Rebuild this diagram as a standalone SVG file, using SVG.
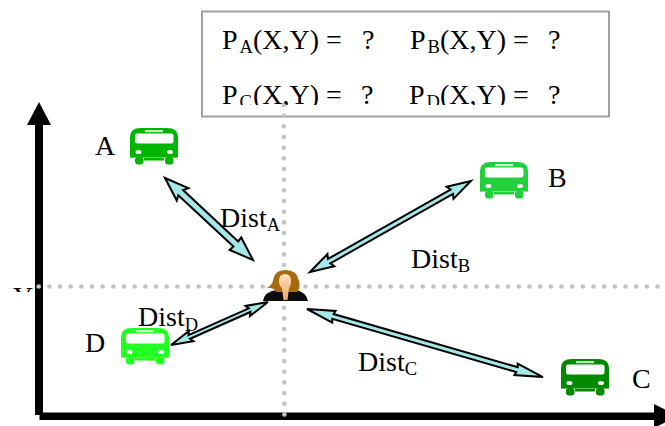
<svg xmlns="http://www.w3.org/2000/svg" xmlns:xlink="http://www.w3.org/1999/xlink" width="665" height="426" viewBox="0 0 665 426">
<style>
text{font-family:"Liberation Serif","Times New Roman",serif;font-size:28px;fill:#000}
.s{font-size:18.500px}
.dots{fill:none;stroke:#c4c4c4;stroke-width:4.6;stroke-linecap:round;stroke-dasharray:0 10.67}
.arr{fill:#a4e8e8;stroke:#000;stroke-width:2;stroke-linejoin:miter}
</style>
<defs>
<clipPath id="boxclip"><rect x="202" y="11" width="407" height="94"/></clipPath>
<clipPath id="yclip"><rect x="0" y="287" width="40" height="5"/></clipPath>
<linearGradient id="skin" x1="0" y1="0" x2="0" y2="1"><stop offset="0" stop-color="#fde0c0"/><stop offset="1" stop-color="#f0a860"/></linearGradient>
<g id="bus">
<path d="M0,30V9Q0,0 11,0H37Q48,0 48,9V30Z"/>
<rect x="5" y="5.500" width="38.500" height="10" rx="2" fill="#fff"/>
<rect x="15" y="2" width="18" height="2.200" fill="#fff" fill-opacity=".75"/>
<ellipse cx="8.500" cy="24" rx="3" ry="2" fill="#fff"/>
<ellipse cx="40" cy="24" rx="3" ry="2" fill="#fff"/>
<rect x="0" y="29" width="48" height="1" fill="#fff" fill-opacity=".4"/>
<rect x="5" y="29" width="8.500" height="7.500" rx="3"/>
<rect x="35" y="29" width="8.500" height="7.500" rx="3"/>
<rect x="14" y="30" width="20" height="2.500"/>
</g>
</defs>
<rect width="665" height="426" fill="#fff"/>

<g id="connectors">
<g id="axes" fill="#000">
<rect x="35" y="124" width="8" height="291"/>
<polygon points="39,102 27,125 51,125"/>
<rect x="39.500" y="412.500" width="618" height="7.500"/>
<polygon points="654,404 654,428 678,416"/>
</g>
<text clip-path="url(#yclip)" x="13" y="306">Y</text>
<path class="dots" d="M38.700,286.500H665"/>
<g id="query-box-frame"><rect x="202" y="11.500" width="407" height="105" fill="#fff" stroke="#a0a0a0" stroke-width="2"/></g>
<path class="dots" d="M283.700,105L284.400,415"/>
<polygon class="arr" transform="translate(165,178) rotate(43)" points="0,0 24,-8.500 21.500,-3.500 96.800,-3.500 96.300,-8.500 120.300,0 96.300,8.500 96.800,3.500 21.500,3.500 24,8.500"/>
<polygon class="arr" transform="translate(310,272) rotate(-29.500)" points="0,0 24,-7 22,-2.500 162.900,-2.500 160.900,-7 184.900,0 160.900,7 162.900,2.500 22,2.500 24,7"/>
<polygon class="arr" transform="translate(307,309) rotate(16.100)" points="0,0 28,-6 27,-2.500 218.600,-2.500 217.600,-6 245.600,0 217.600,6 218.600,2.500 27,2.500 28,6"/>
<polygon class="arr" transform="translate(171,345) rotate(-23.900)" points="0,0 22,-5.500 20,-2 86,-2 84,-5.500 106,0 84,5.500 86,2 20,2 22,5.500"/>
</g>

<g id="dist-labels">
<text x="220" y="227">Dist<tspan class="s" dy="3.500">A</tspan></text>
<text x="411" y="268">Dist<tspan class="s" dy="3.500">B</tspan></text>
<text x="358" y="371">Dist<tspan class="s" dy="3.500">C</tspan></text>
<text x="138" y="326">Dist<tspan class="s" dy="5">D</tspan></text>
</g>

<g id="query-box" clip-path="url(#boxclip)">
<text y="49"><tspan x="222">P</tspan><tspan class="s" x="239.500" dy="3.500">A</tspan><tspan x="253" dy="-3.500">(X,Y) =</tspan><tspan x="362">?</tspan><tspan x="410">P</tspan><tspan class="s" x="427.500" dy="3.500">B</tspan><tspan x="440" dy="-3.500">(X,Y) =</tspan><tspan x="548">?</tspan></text>
<text y="104"><tspan x="222">P</tspan><tspan class="s" x="239.500" dy="3.500">C</tspan><tspan x="253" dy="-3.500">(X,Y) =</tspan><tspan x="361">?</tspan><tspan x="409">P</tspan><tspan class="s" x="426.500" dy="3.500">D</tspan><tspan x="440" dy="-3.500">(X,Y) =</tspan><tspan x="548">?</tspan></text>
</g>

<g id="node-a"><use xlink:href="#bus" href="#bus" x="130" y="128" fill="#00b400"/><text x="95" y="155">A</text></g>
<g id="node-b"><use xlink:href="#bus" href="#bus" x="480" y="162" fill="#22d03c"/><text x="548" y="187">B</text></g>
<g id="node-c"><use xlink:href="#bus" href="#bus" x="561" y="359" fill="#008a00"/><text x="632" y="388">C</text></g>
<g id="node-d"><use xlink:href="#bus" href="#bus" x="121" y="328" fill="#22ff22"/><text x="85" y="352">D</text></g>

<g id="node-user">
<path d="M263,301Q264,292 276,290H296Q306,292 308,301Z" fill="#0c0c0c"/>
<path d="M265,288Q271,287 273,281Q274,270 286,270Q297,270 299,281Q301,288 297,292H276Q274,287 265,288Z" fill="#a86a10"/>
<path d="M279,281Q279,274 285,274Q291,274 291,281Q291,286 289,288L287.500,300H283.500L282,288Q279,286 279,281Z" fill="url(#skin)"/>
</g>
</svg>
